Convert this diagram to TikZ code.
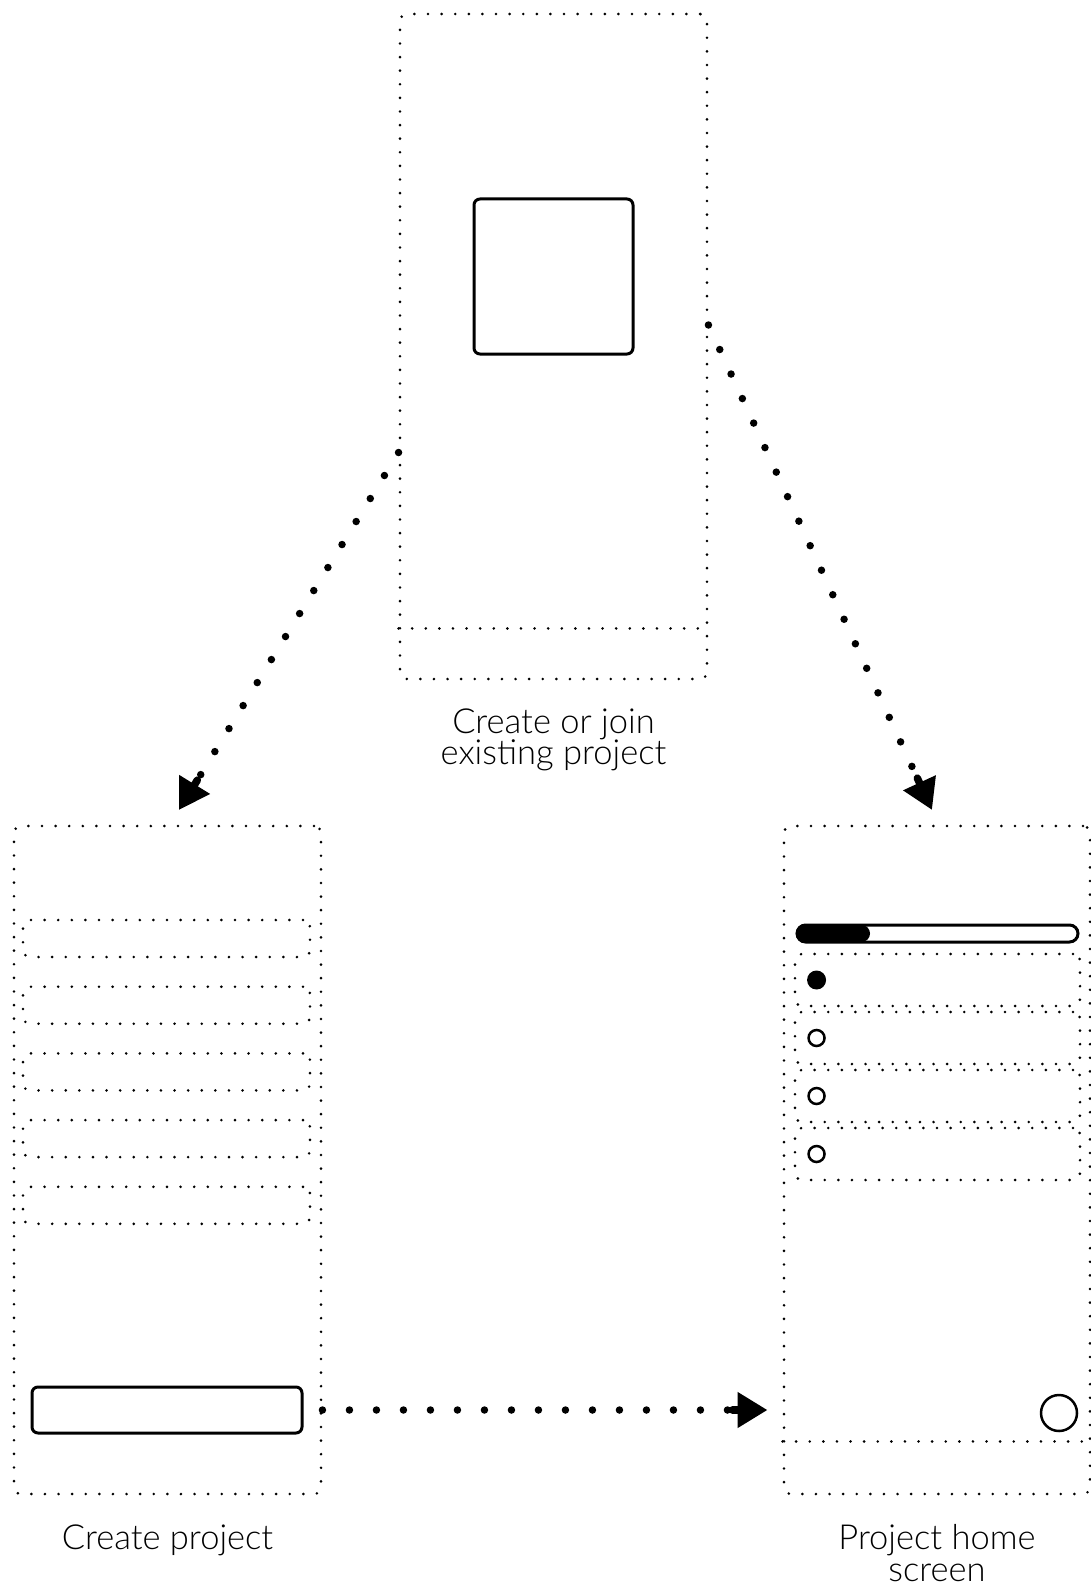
\documentclass[tikz,border=0pt]{standalone}
\usepackage{fontspec}
\setmainfont{Lato}[UprightFont=* Light]
\usetikzlibrary{positioning, arrows.meta, decorations.markings}

\begin{document}
\begin{tikzpicture}[x=1pt, y=-1pt,
    dots/.style={line width=2.9pt, dash pattern=on 0pt off 13.6pt, line cap=round},
    phone/.style={draw, dots, rounded corners=7pt, inner sep=0pt, minimum width=307pt, minimum height=668pt},
    row/.style={phone, minimum width=287pt, minimum height=37pt},
    item/.style={phone, minimum width=285pt, minimum height=52pt},
    solidbox/.style={draw, line width=3pt, rounded corners=6pt, inner sep=0pt},
    flow/.style={line width=7.5pt, dash pattern=on 0pt off 27pt, line cap=round, -{Triangle[length=30pt, width=34pt]},
        decoration={markings, mark=at position 1 with {\draw[-, solid, line width=7.5pt, line cap=round] (-35pt,0) -- (-29pt,0);}},
        postaction=decorate},
    caption/.style={font=\fontsize{34.5}{31.5}\selectfont, align=center, inner sep=0pt}]
    \useasboundingbox (0,0) rectangle (1091,1586);

    % the three screens
    \node[phone, minimum height=665pt] (join) at (553.5,346.5) {};
    \node[phone] (create) at (167.5,1160) {};
    \node[phone, minimum width=306pt] (home) at (937,1160) {};

    % join screen
    \node[solidbox, minimum width=159pt, minimum height=155pt] (logo) at (553.5,276.5) {};
    \draw[dots] ([yshift=52pt]join.south west) -- ([yshift=52pt]join.south east); % footer

    % create screen
    \foreach \i in {0,...,4}
        \node[row] (field\i) at (166.5, 938.5+66.7*\i) {};
    \node[solidbox, minimum width=270pt, minimum height=46pt] (btn) at (167,1410) {};

    % home screen
    \fill[rounded corners=8.5pt] (797,925) rectangle (870,942); % progress
    \draw[line width=3pt, rounded corners=8.5pt] (797,925) rectangle (1078,942);
    \foreach \i in {0,...,3}
        \node[item] (task\i) at (937.5, 980+58*\i) {};
    \fill ([xshift=23pt]task0.west) circle (9.5pt);
    \foreach \i in {1,2,3}
        \draw[line width=2.5pt] ([xshift=23pt]task\i.west) circle (8pt);
    \draw[line width=2.5pt] (1059,1413) circle (18pt); % fab
    \draw[dots] ([yshift=54pt]home.south west) -- ([yshift=54pt]home.south east); % footer

    % flows
    \coordinate (leftEnd) at (179,810);
    \coordinate (rightEnd) at (932,810);
    \draw[flow] ([yshift=-106pt]join.west) -- (leftEnd);
    \draw[flow] ([yshift=21.5pt]join.east) -- (rightEnd);
    \draw[flow] (btn -| create.east) -- ([xshift=-15pt]home.west |- btn);

    % captions
    \node[caption, below=28pt of join] (joinLabel) {Create or join\\existing project};
    \node[caption, below=29pt of create] (createLabel) {Create project};
    \node[caption, below=29pt of home] (homeLabel) {Project home\\screen};
\end{tikzpicture}
\end{document}
